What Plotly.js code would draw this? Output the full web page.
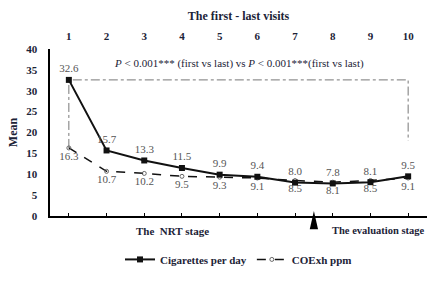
<!DOCTYPE html>
<html>
<head>
<meta charset="utf-8">
<script src="https://cdn.plot.ly/plotly-3.0.1.min.js"></script>
<style>html,body{margin:0;padding:0;background:#fff;}#chart{width:435px;height:291px;}</style>
</head>
<body>
<div id="chart"></div>
<script>
const visits = [1, 2, 3, 4, 5, 6, 7, 8, 9, 10];
const visitLabels = ['1', '2', '3', '4', '5', '6', '7', '8', '9', '10'];
const cigarettes = [32.6, 15.7, 13.3, 11.5, 9.9, 9.4, 8.0, 7.8, 8.1, 9.5];
const coexh = [16.3, 10.7, 10.2, 9.5, 9.3, 9.1, 8.5, 8.1, 8.5, 9.1];
const bracketEndY = 18;
const stageBreak = 7.5;

const FONT = 'Liberation Serif, Times New Roman, serif';
const TXT = '#1c2337';

const traces = [
  {
    x: [visits[0], visits[0], visits[visits.length - 1], visits[visits.length - 1]],
    y: [coexh[0], cigarettes[0], cigarettes[0], bracketEndY],
    mode: 'lines', line: {color: '#777', width: 1, dash: 'dashdot'},
    showlegend: false, hoverinfo: 'skip'
  },
  {
    x: visits, y: coexh, name: 'COExh ppm', mode: 'lines+markers+text',
    line: {color: '#111', width: 1.5, dash: 'dash'},
    marker: {symbol: 'circle-open', size: 4, color: '#666', line: {width: 1}},
    text: coexh.map(v => v.toFixed(1)), textposition: 'bottom center',
    textfont: {family: FONT, size: 11, color: '#555'}
  },
  {
    x: visits, y: cigarettes, name: 'Cigarettes per day', mode: 'lines+markers+text',
    line: {color: '#111', width: 2},
    marker: {symbol: 'square', size: 6, color: '#111'},
    text: cigarettes.map(v => v.toFixed(1)), textposition: 'top center',
    textfont: {family: FONT, size: 11, color: '#555'}
  },
  {
    x: visits, y: cigarettes.map(() => null), xaxis: 'x2', showlegend: false, hoverinfo: 'skip', mode: 'lines'
  }
];

const layout = {
  width: 435, height: 291,
  margin: {l: 50, r: 8, t: 49, b: 75},
  paper_bgcolor: '#fff', plot_bgcolor: '#fff',
  font: {family: FONT, color: TXT, size: 11},
  showlegend: true,
  legend: {
    orientation: 'h', x: 0.5, xanchor: 'center', y: -0.26, yanchor: 'middle',
    traceorder: 'reversed',
    font: {family: FONT, size: 11, color: TXT, weight: 'bold'},
    itemwidth: 30, bgcolor: 'rgba(0,0,0,0)'
  },
  xaxis: {
    range: [0.5, 10.5], showgrid: false, zeroline: false,
    showline: true, linecolor: '#000', linewidth: 2,
    tickvals: visits, ticks: 'inside', ticklen: 3, tickcolor: '#000',
    showticklabels: false
  },
  xaxis2: {
    overlaying: 'x', matches: 'x', side: 'top', range: [0.5, 10.5],
    showgrid: false, zeroline: false, showline: false,
    tickvals: visits, ticktext: visitLabels, ticks: '',
    ticklabelstandoff: 6,
    tickfont: {family: FONT, size: 11, color: TXT, weight: 'bold'},
    title: {text: 'The first - last visits', standoff: 6,
            font: {family: FONT, size: 12, color: TXT, weight: 'bold'}}
  },
  yaxis: {
    range: [0, 40], dtick: 5, showgrid: false, zeroline: false,
    showline: true, linecolor: '#000', linewidth: 2.5, ticks: '',
    ticklabelstandoff: 8,
    tickfont: {family: FONT, size: 11, color: TXT, weight: 'bold'},
    title: {text: 'Mean', standoff: 6, font: {family: FONT, size: 12, color: TXT, weight: 'bold'}}
  },
  annotations: [
    {x: 5.5, y: 36.5, xref: 'x', yref: 'y', showarrow: false,
     text: '<i>P</i> &lt; 0.001*** (first vs last) vs <i>P</i> &lt; 0.001***(first vs last)',
     font: {family: FONT, size: 11, color: TXT}},
    {x: 3.74, y: -0.09, xref: 'x', yref: 'paper', yanchor: 'middle', showarrow: false,
     text: '<b>The  NRT stage</b>', font: {family: FONT, size: 11, color: TXT}},
    {x: 1, y: -0.085, xref: 'paper', yref: 'paper', xanchor: 'right', yanchor: 'middle', showarrow: false,
     text: '<b>The evaluation stage</b>', font: {family: FONT, size: 10.5, color: TXT}}
  ],
  shapes: [
    {type: 'path', xref: 'x', yref: 'paper',
     path: `M ${stageBreak} 0.03 L ${stageBreak - 0.11} -0.08 L ${stageBreak + 0.11} -0.08 Z`,
     fillcolor: '#000', line: {width: 0}}
  ]
};

Plotly.newPlot('chart', traces, layout, {displayModeBar: false, staticPlot: true});
</script>
</body>
</html>
